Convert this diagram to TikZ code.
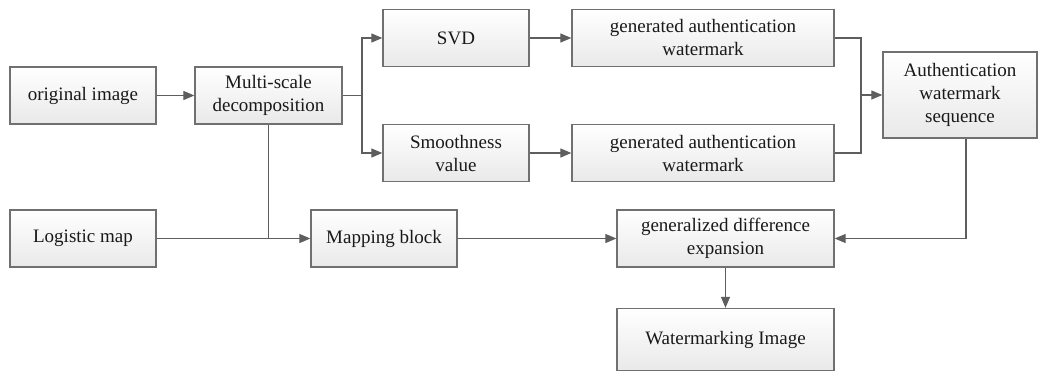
\documentclass[tikz,border=0pt]{standalone}
\usepackage{fontspec}
\setmainfont{Liberation Serif}
\usetikzlibrary{arrows.meta}
\definecolor{edge}{HTML}{707070}
\definecolor{wire}{HTML}{5E5E5E}
\definecolor{boxbot}{HTML}{E9E9E9}
\tikzset{
  blk/.style={draw=edge, line width=1.3pt, top color=white, bottom color=boxbot,
    align=center, inner sep=2pt, font=\fontsize{19}{23}\selectfont, text=black!90},
  wireline/.style={draw=wire, line width=1.2pt},
  arr/.style={wireline, -{Triangle[length=11pt,width=9pt]}}
}
\begin{document}
\begin{tikzpicture}[x=1pt,y=-1pt]
\useasboundingbox (0,0) rectangle (1039,372);
\node[blk, minimum width=146pt, minimum height=57pt] (orig) at (83,95.5) {original image};
\node[blk, minimum width=147pt, minimum height=57pt] (ms) at (268.5,95.5) {Multi-scale\\decomposition};
\node[blk, minimum width=146pt, minimum height=57pt] (svd) at (456,38) {SVD};
\node[blk, minimum width=146pt, minimum height=57pt] (sm) at (456,153) {Smoothness\\value};
\node[blk, minimum width=262pt, minimum height=57pt] (g1) at (703,38) {generated authentication\\watermark};
\node[blk, minimum width=262pt, minimum height=57pt] (g2) at (703,153) {generated authentication\\watermark};
\node[blk, minimum width=154pt, minimum height=86pt] (auth) at (960,95) {Authentication\\watermark\\sequence};
\node[blk, minimum width=146pt, minimum height=57pt] (log) at (83,238.5) {Logistic map};
\node[blk, minimum width=146pt, minimum height=57pt] (map) at (384,238.5) {Mapping block};
\node[blk, minimum width=217pt, minimum height=57pt] (gde) at (725.5,238.5) {generalized difference\\expansion};
\node[blk, minimum width=217pt, minimum height=62pt] (wm) at (725.5,339.5) {Watermarking Image};

\coordinate (split) at (362,95.5);
\coordinate (merge) at (861,95);
\coordinate (down) at (966,95);

\draw[arr] (orig) -- (ms);
\draw[wireline] (ms.east) -- (split);
\draw[arr] (split) |- (svd.west);
\draw[arr] (split) |- (sm.west);
\draw[arr] (svd) -- (g1);
\draw[arr] (sm) -- (g2);
\draw[wireline] (g1.east) -| (merge);
\draw[wireline] (g2.east) -| (merge);
\draw[arr] (merge) -- (auth.west);
\draw[arr] (log) -- (map);
\draw[wireline] (ms.south) -- (ms.south |- log.east);
\draw[arr] (map) -- (gde);
\draw[arr] (down |- auth.south) |- (gde.east);
\draw[arr] (gde) -- (wm);
\end{tikzpicture}
\end{document}
